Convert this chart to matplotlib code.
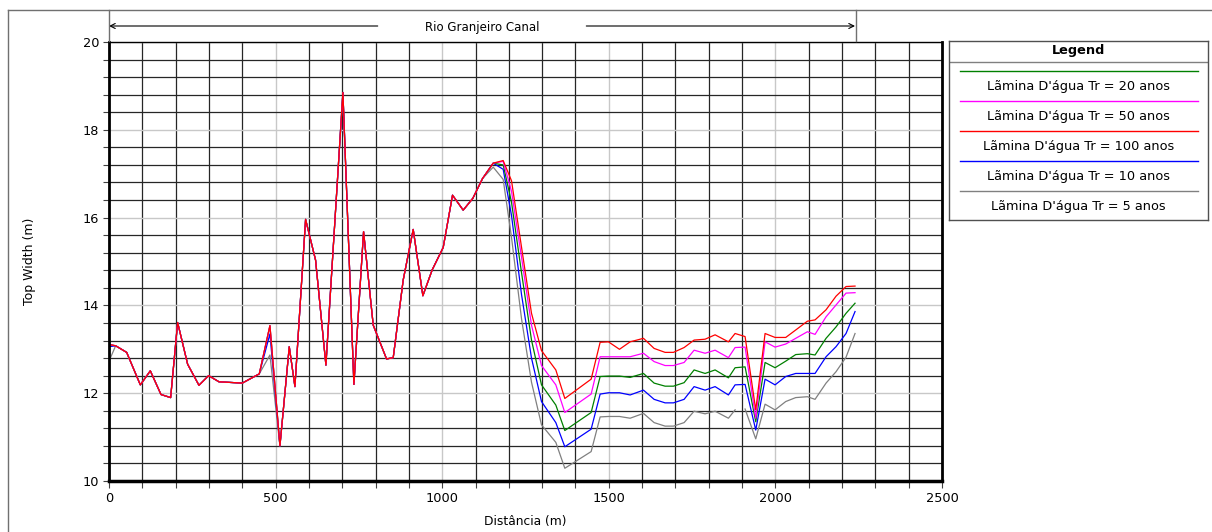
import numpy as np
import matplotlib.pyplot as plt
from matplotlib.lines import Line2D
from matplotlib.ticker import MultipleLocator
import matplotlib.transforms as mtransforms

plt.rcParams['font.family'] = ['DejaVu Sans']
plt.rcParams['font.size'] = 9

# estacoes (m) ao longo do canal
estacoes = np.array([0, 20, 53, 94, 124, 156, 185, 206, 236, 270, 299, 330, 400, 451, 483,
                     513, 541, 558, 590, 620, 651, 702, 735, 764, 793, 833, 853, 883, 913,
                     942, 970, 1003, 1031, 1063, 1092, 1121,
                     1153, 1183, 1208, 1238, 1268, 1298, 1341, 1368, 1447, 1474, 1499, 1532,
                     1564, 1604, 1636, 1669, 1694, 1726, 1756, 1789, 1819, 1859, 1879, 1909,
                     1941, 1969, 1999, 2031, 2061, 2096, 2119, 2152, 2182, 2212, 2239])

# trecho de montante (0 a 1121 m), igual para todas as cheias
montante = [13.11, 13.08, 12.93, 12.19, 12.51, 11.97, 11.90, 13.61, 12.66, 12.18, 12.40,
            12.26, 12.23, 12.44, 13.54, 10.80, 13.06, 12.15, 15.96, 15.03, 12.64, 18.85,
            12.20, 15.68, 13.55, 12.78, 12.81, 14.58, 15.73, 14.22, 14.81, 15.32, 16.51,
            16.17, 16.44, 16.89]

# trecho de jusante (1153 a 2239 m)
jus_tr100 = [17.24, 17.30, 16.84, 15.33, 13.82, 12.97, 12.53, 11.88, 12.32, 13.16, 13.17,
             13.00, 13.17, 13.25, 13.02, 12.93, 12.93, 13.04, 13.21, 13.23, 13.33, 13.17,
             13.36, 13.29, 11.62, 13.36, 13.27, 13.27, 13.44, 13.64, 13.67, 13.90, 14.21,
             14.43, 14.44]
jus_tr50 = [17.24, 17.28, 16.60, 15.10, 13.55, 12.63, 12.19, 11.56, 11.98, 12.83, 12.83,
            12.83, 12.83, 12.91, 12.72, 12.63, 12.63, 12.70, 12.98, 12.91, 12.98, 12.81,
            13.04, 13.05, 11.43, 13.17, 13.05, 13.12, 13.25, 13.40, 13.34, 13.74, 14.01,
            14.28, 14.29]
jus_tr20 = [17.24, 17.20, 16.35, 14.75, 13.21, 12.19, 11.73, 11.15, 11.56, 12.38, 12.39,
            12.39, 12.36, 12.45, 12.23, 12.16, 12.16, 12.24, 12.53, 12.45, 12.53, 12.35,
            12.58, 12.60, 11.35, 12.70, 12.58, 12.73, 12.88, 12.90, 12.87, 13.25, 13.51,
            13.82, 14.05]
jus_tr10 = [17.24, 17.10, 16.05, 14.25, 12.80, 11.81, 11.33, 10.78, 11.18, 11.98, 12.01,
            12.01, 11.96, 12.07, 11.86, 11.78, 11.78, 11.86, 12.15, 12.07, 12.15, 11.96,
            12.19, 12.20, 11.16, 12.32, 12.19, 12.38, 12.45, 12.45, 12.45, 12.83, 13.06,
            13.36, 13.86]
jus_tr5 = [17.15, 16.87, 15.55, 13.70, 12.25, 11.28, 10.88, 10.29, 10.67, 11.46, 11.47,
           11.47, 11.43, 11.54, 11.33, 11.25, 11.25, 11.33, 11.59, 11.53, 11.59, 11.43,
           11.62, 11.64, 10.96, 11.75, 11.62, 11.81, 11.90, 11.92, 11.86, 12.23, 12.49,
           12.82, 13.36]

# pontos onde Tr 10 e Tr 5 diferem no trecho de montante
dif_tr10 = {0: 13.06, 483: 13.35}
dif_tr5 = {0: 12.73, 483: 12.87}
falha_tr5 = 1894  # trecho sem resultado para Tr 5

def serie(jus, dif=None):
    y = np.array(montante + jus, dtype=float)
    if dif:
        for est, val in dif.items():
            y[estacoes == est] = val
    return y

tr100 = serie(jus_tr100)
tr50 = serie(jus_tr50)
tr20 = serie(jus_tr20)
tr10 = serie(jus_tr10, dif_tr10)
tr5 = serie(jus_tr5, dif_tr5)
i_falha = np.searchsorted(estacoes, falha_tr5)
x_tr5 = np.insert(estacoes.astype(float), i_falha, falha_tr5)
tr5 = np.insert(tr5, i_falha, np.nan)

fig = plt.figure(figsize=(12.12, 5.32), dpi=100)
W, H = 1212, 532
ax = fig.add_axes([109 / W, 51 / H, 833 / W, 439 / H])

ax.plot(x_tr5, tr5, color='#808080', lw=0.9)
ax.plot(estacoes, tr10, color='#0000ff', lw=0.9)
ax.plot(estacoes, tr20, color='#008000', lw=0.9)
ax.plot(estacoes, tr50, color='#ff00ff', lw=0.9)
ax.plot(estacoes, tr100, color='#ff0000', lw=0.9)

ax.set_xlim(0, 2500)
ax.set_ylim(10, 20)
ax.xaxis.set_major_locator(MultipleLocator(500))
ax.xaxis.set_minor_locator(MultipleLocator(100))
ax.yaxis.set_major_locator(MultipleLocator(2))
ax.yaxis.set_minor_locator(MultipleLocator(0.4))
ax.set_axisbelow(True)
ax.grid(which='major', color='#c8c8c8', lw=1.0)
ax.grid(which='minor', color='#262626', lw=0.9)
ax.tick_params(which='both', direction='out', length=4, width=0.8, color='#404040')
ax.tick_params(axis='x', which='both', length=5)
ax.tick_params(labelsize=9.3, pad=3)

for lado, lw in [('left', 2.0), ('bottom', 2.5), ('right', 2.0), ('top', 1.0)]:
    ax.spines[lado].set_linewidth(lw)
    ax.spines[lado].set_color('black')

ax.set_ylabel('Top Width (m)', fontsize=9, va='center')
ax.set_xlabel('Distância (m)', fontsize=8.8, va='center')
ax.yaxis.set_label_coords(-0.095, 0.5)
ax.xaxis.set_label_coords(0.5, -0.093)

# moldura externa e faixa do titulo do trecho
borda = '#707070'
fig.add_artist(Line2D([8 / W, 1], [1 - 10 / H] * 2, transform=fig.transFigure, color=borda, lw=1))
fig.add_artist(Line2D([8 / W] * 2, [0, 1 - 10 / H], transform=fig.transFigure, color=borda, lw=1))
fig.add_artist(Line2D([856 / W] * 2, [1 - 10 / H, 1 - 41 / H], transform=fig.transFigure, color=borda, lw=1))
fig.add_artist(Line2D([109 / W] * 2, [1 - 10 / H, 1 - 41 / H], transform=fig.transFigure, color=borda, lw=1))

trans = mtransforms.blended_transform_factory(ax.transData, fig.transFigure)
fim = estacoes[-1]
meio = fim / 2
folga = 313
y_seta = 1 - 26 / H
for ini, ponta in [(meio - folga, 0), (meio + folga, fim)]:
    ax.annotate('', xy=(ponta, y_seta), xytext=(ini, y_seta), xycoords=trans, textcoords=trans,
                annotation_clip=False,
                arrowprops=dict(arrowstyle='->', lw=0.8, color='black', shrinkA=0, shrinkB=0,
                                mutation_scale=9))
ax.text(meio, 1 - 27 / H, 'Rio Granjeiro Canal', transform=trans, ha='center', va='center',
        fontsize=8.5)

# legenda
lax = fig.add_axes([949 / W, 1 - 220 / H, 259 / W, 179 / H])
lax.set_xlim(0, 1)
lax.set_ylim(0, 1)
lax.set_xticks([])
lax.set_yticks([])
for s in lax.spines.values():
    s.set_color('#505050')
    s.set_linewidth(1.0)
lax.text(0.5, 0.945, 'Legend', ha='center', va='center', fontsize=9.3, fontweight='bold')
lax.axhline(0.884, color='#808080', lw=1)
entradas = [('Lãmina D\'água Tr = 20 anos', '#008000'),
            ('Lãmina D\'água Tr = 50 anos', '#ff00ff'),
            ('Lãmina D\'água Tr = 100 anos', '#ff0000'),
            ('Lãmina D\'água Tr = 10 anos', '#0000ff'),
            ('Lãmina D\'água Tr = 5 anos', '#808080')]
for i, (rotulo, cor) in enumerate(entradas):
    yl = 0.832 - i * 0.168
    lax.plot([0.042, 0.961], [yl, yl], color=cor, lw=1)
    lax.text(0.5, yl - 0.084, rotulo, ha='center', va='center', fontsize=9.3)

fig.savefig('out.png', dpi=100)
